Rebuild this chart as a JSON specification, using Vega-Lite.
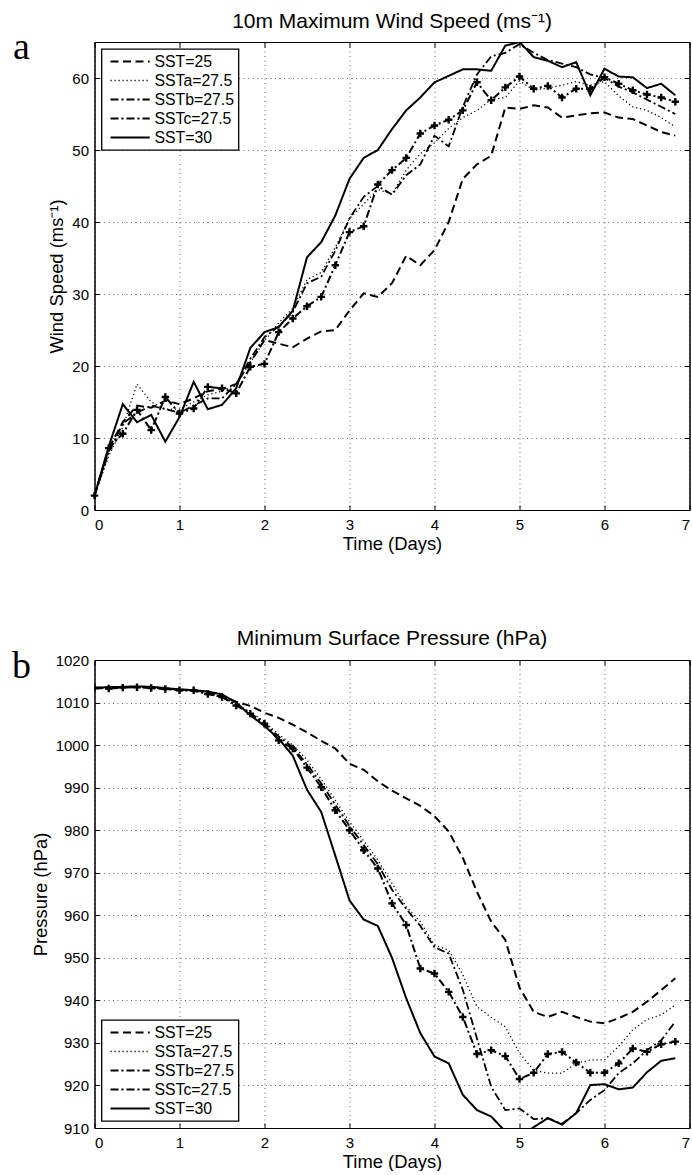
{
"$schema": "https://vega.github.io/schema/vega-lite/v6.json",
"padding": {"left": 11.5, "top": 10, "right": 0, "bottom": 0},
"background": "#ffffff",
"config": {
  "font": "Liberation Sans",
  "view": {"stroke": "#000", "strokeWidth": 1},
  "axis": {"grid": true, "gridColor": "#000", "gridDash": [1, 3.5], "gridOpacity": 0.6, "gridWidth": 1, "domainColor": "#000", "domainWidth": 1, "tickColor": "#000", "tickSize": -5, "tickWidth": 1, "labelColor": "#000", "labelFont": "Liberation Sans", "labelFontSize": 15, "titleFont": "Liberation Sans", "titleFontWeight": "normal", "titleFontSize": 18.4, "titleColor": "#000"},
  "axisX": {"labelPadding": 12, "titlePadding": 2},
  "axisY": {"labelPadding": 11, "titlePadding": 5, "format": "d"},
  "title": {"font": "Liberation Sans", "fontSize": 21, "fontWeight": "normal", "color": "#000", "frame": "group", "baseline": "alphabetic"},
  "legend": {"title": null, "offset": 7, "strokeColor": "#000", "strokeWidth": 1.3, "fillColor": "#fff", "padding": 4.5, "symbolType": "M-0.5,0H5.1", "symbolSize": 196, "symbolStrokeColor": "#000", "labelFont": "Liberation Sans", "labelFontSize": 15.8, "labelColor": "#000", "labelOffset": 32.5, "rowPadding": 3.0, "labelLimit": 300}
},
"datasets": {
"wind": [
{"t":0,"s":"SST=25","v":2},{"t":0.167,"s":"SST=25","v":8.5},{"t":0.333,"s":"SST=25","v":12.2},{"t":0.5,"s":"SST=25","v":14.5},{"t":0.667,"s":"SST=25","v":14.2},{"t":0.833,"s":"SST=25","v":15.2},{"t":1,"s":"SST=25","v":14.7},{"t":1.167,"s":"SST=25","v":15.5},{"t":1.333,"s":"SST=25","v":16.5},{"t":1.5,"s":"SST=25","v":16.8},{"t":1.667,"s":"SST=25","v":17.5},{"t":1.833,"s":"SST=25","v":20.5},{"t":2,"s":"SST=25","v":23.6},{"t":2.167,"s":"SST=25","v":23.1},{"t":2.333,"s":"SST=25","v":22.6},{"t":2.5,"s":"SST=25","v":23.8},{"t":2.667,"s":"SST=25","v":24.8},{"t":2.833,"s":"SST=25","v":25.0},{"t":3,"s":"SST=25","v":27.7},{"t":3.167,"s":"SST=25","v":30.1},{"t":3.333,"s":"SST=25","v":29.6},{"t":3.5,"s":"SST=25","v":31.5},{"t":3.667,"s":"SST=25","v":35.3},{"t":3.833,"s":"SST=25","v":34.0},{"t":4,"s":"SST=25","v":36.1},{"t":4.167,"s":"SST=25","v":40.0},{"t":4.333,"s":"SST=25","v":46.0},{"t":4.5,"s":"SST=25","v":48.0},{"t":4.667,"s":"SST=25","v":49.2},{"t":4.833,"s":"SST=25","v":55.9},{"t":5,"s":"SST=25","v":55.7},{"t":5.167,"s":"SST=25","v":56.2},{"t":5.333,"s":"SST=25","v":55.9},{"t":5.5,"s":"SST=25","v":54.5},{"t":5.667,"s":"SST=25","v":54.8},{"t":5.833,"s":"SST=25","v":55.1},{"t":6,"s":"SST=25","v":55.2},{"t":6.167,"s":"SST=25","v":54.5},{"t":6.333,"s":"SST=25","v":54.3},{"t":6.5,"s":"SST=25","v":53.4},{"t":6.667,"s":"SST=25","v":52.5},{"t":6.833,"s":"SST=25","v":52.0},
{"t":0,"s":"SSTa=27.5","v":2},{"t":0.167,"s":"SSTa=27.5","v":7.5},{"t":0.333,"s":"SSTa=27.5","v":11.5},{"t":0.5,"s":"SSTa=27.5","v":17.5},{"t":0.667,"s":"SSTa=27.5","v":15.0},{"t":0.833,"s":"SSTa=27.5","v":14.0},{"t":1,"s":"SSTa=27.5","v":14.0},{"t":1.167,"s":"SSTa=27.5","v":15.0},{"t":1.333,"s":"SSTa=27.5","v":16.0},{"t":1.5,"s":"SSTa=27.5","v":16.5},{"t":1.667,"s":"SSTa=27.5","v":17.5},{"t":1.833,"s":"SSTa=27.5","v":20.5},{"t":2,"s":"SSTa=27.5","v":23.5},{"t":2.167,"s":"SSTa=27.5","v":26.0},{"t":2.333,"s":"SSTa=27.5","v":28.0},{"t":2.5,"s":"SSTa=27.5","v":32.0},{"t":2.667,"s":"SSTa=27.5","v":33.0},{"t":2.833,"s":"SSTa=27.5","v":36.5},{"t":3,"s":"SSTa=27.5","v":40.5},{"t":3.167,"s":"SSTa=27.5","v":42.5},{"t":3.333,"s":"SSTa=27.5","v":44.5},{"t":3.5,"s":"SSTa=27.5","v":43.9},{"t":3.667,"s":"SSTa=27.5","v":47.2},{"t":3.833,"s":"SSTa=27.5","v":49.5},{"t":4,"s":"SSTa=27.5","v":51.0},{"t":4.167,"s":"SSTa=27.5","v":53.0},{"t":4.333,"s":"SSTa=27.5","v":54.5},{"t":4.5,"s":"SSTa=27.5","v":55.5},{"t":4.667,"s":"SSTa=27.5","v":57.0},{"t":4.833,"s":"SSTa=27.5","v":57.3},{"t":5,"s":"SSTa=27.5","v":59.6},{"t":5.167,"s":"SSTa=27.5","v":58.3},{"t":5.333,"s":"SSTa=27.5","v":58.6},{"t":5.5,"s":"SSTa=27.5","v":59.0},{"t":5.667,"s":"SSTa=27.5","v":59.5},{"t":5.833,"s":"SSTa=27.5","v":59.0},{"t":6,"s":"SSTa=27.5","v":59.5},{"t":6.167,"s":"SSTa=27.5","v":57.5},{"t":6.333,"s":"SSTa=27.5","v":56.0},{"t":6.5,"s":"SSTa=27.5","v":55.5},{"t":6.667,"s":"SSTa=27.5","v":54.5},{"t":6.833,"s":"SSTa=27.5","v":53.2},
{"t":0,"s":"SSTb=27.5","v":2},{"t":0.167,"s":"SSTb=27.5","v":8.0},{"t":0.333,"s":"SSTb=27.5","v":12.0},{"t":0.5,"s":"SSTb=27.5","v":13.5},{"t":0.667,"s":"SSTb=27.5","v":14.5},{"t":0.833,"s":"SSTb=27.5","v":14.0},{"t":1,"s":"SSTb=27.5","v":13.5},{"t":1.167,"s":"SSTb=27.5","v":14.5},{"t":1.333,"s":"SSTb=27.5","v":15.5},{"t":1.5,"s":"SSTb=27.5","v":15.5},{"t":1.667,"s":"SSTb=27.5","v":17.5},{"t":1.833,"s":"SSTb=27.5","v":21.0},{"t":2,"s":"SSTb=27.5","v":24.0},{"t":2.167,"s":"SSTb=27.5","v":25.5},{"t":2.333,"s":"SSTb=27.5","v":27.5},{"t":2.5,"s":"SSTb=27.5","v":31.5},{"t":2.667,"s":"SSTb=27.5","v":32.4},{"t":2.833,"s":"SSTb=27.5","v":36.0},{"t":3,"s":"SSTb=27.5","v":40.5},{"t":3.167,"s":"SSTb=27.5","v":43.5},{"t":3.333,"s":"SSTb=27.5","v":45.0},{"t":3.5,"s":"SSTb=27.5","v":43.8},{"t":3.667,"s":"SSTb=27.5","v":46.5},{"t":3.833,"s":"SSTb=27.5","v":48.0},{"t":4,"s":"SSTb=27.5","v":52.0},{"t":4.167,"s":"SSTb=27.5","v":50.5},{"t":4.333,"s":"SSTb=27.5","v":56.0},{"t":4.5,"s":"SSTb=27.5","v":60.5},{"t":4.667,"s":"SSTb=27.5","v":63.0},{"t":4.833,"s":"SSTb=27.5","v":63.5},{"t":5,"s":"SSTb=27.5","v":64.7},{"t":5.167,"s":"SSTb=27.5","v":63.5},{"t":5.333,"s":"SSTb=27.5","v":62.5},{"t":5.5,"s":"SSTb=27.5","v":62.0},{"t":5.667,"s":"SSTb=27.5","v":61.5},{"t":5.833,"s":"SSTb=27.5","v":60.5},{"t":6,"s":"SSTb=27.5","v":60.0},{"t":6.167,"s":"SSTb=27.5","v":58.8},{"t":6.333,"s":"SSTb=27.5","v":58.0},{"t":6.5,"s":"SSTb=27.5","v":57.0},{"t":6.667,"s":"SSTb=27.5","v":56.0},{"t":6.833,"s":"SSTb=27.5","v":55.0},
{"t":0,"s":"SSTc=27.5","v":2},{"t":0.167,"s":"SSTc=27.5","v":8.6},{"t":0.333,"s":"SSTc=27.5","v":10.6},{"t":0.5,"s":"SSTc=27.5","v":13.9},{"t":0.667,"s":"SSTc=27.5","v":11.1},{"t":0.833,"s":"SSTc=27.5","v":15.7},{"t":1,"s":"SSTc=27.5","v":13.4},{"t":1.167,"s":"SSTc=27.5","v":14.1},{"t":1.333,"s":"SSTc=27.5","v":17.1},{"t":1.5,"s":"SSTc=27.5","v":16.9},{"t":1.667,"s":"SSTc=27.5","v":16.2},{"t":1.833,"s":"SSTc=27.5","v":19.9},{"t":2,"s":"SSTc=27.5","v":20.3},{"t":2.167,"s":"SSTc=27.5","v":24.7},{"t":2.333,"s":"SSTc=27.5","v":26.6},{"t":2.5,"s":"SSTc=27.5","v":28.3},{"t":2.667,"s":"SSTc=27.5","v":29.6},{"t":2.833,"s":"SSTc=27.5","v":34.0},{"t":3,"s":"SSTc=27.5","v":38.6},{"t":3.167,"s":"SSTc=27.5","v":39.4},{"t":3.333,"s":"SSTc=27.5","v":45.2},{"t":3.5,"s":"SSTc=27.5","v":47.2},{"t":3.667,"s":"SSTc=27.5","v":48.9},{"t":3.833,"s":"SSTc=27.5","v":52.3},{"t":4,"s":"SSTc=27.5","v":53.4},{"t":4.167,"s":"SSTc=27.5","v":54.2},{"t":4.333,"s":"SSTc=27.5","v":55.5},{"t":4.5,"s":"SSTc=27.5","v":59.4},{"t":4.667,"s":"SSTc=27.5","v":56.9},{"t":4.833,"s":"SSTc=27.5","v":58.7},{"t":5,"s":"SSTc=27.5","v":60.2},{"t":5.167,"s":"SSTc=27.5","v":58.5},{"t":5.333,"s":"SSTc=27.5","v":58.9},{"t":5.5,"s":"SSTc=27.5","v":57.3},{"t":5.667,"s":"SSTc=27.5","v":58.5},{"t":5.833,"s":"SSTc=27.5","v":58.5},{"t":6,"s":"SSTc=27.5","v":60.1},{"t":6.167,"s":"SSTc=27.5","v":59.2},{"t":6.333,"s":"SSTc=27.5","v":58.3},{"t":6.5,"s":"SSTc=27.5","v":57.7},{"t":6.667,"s":"SSTc=27.5","v":57.3},{"t":6.833,"s":"SSTc=27.5","v":56.7},
{"t":0,"s":"SST=30","v":2.0},{"t":0.167,"s":"SST=30","v":8.8},{"t":0.333,"s":"SST=30","v":14.7},{"t":0.5,"s":"SST=30","v":12.2},{"t":0.667,"s":"SST=30","v":13.2},{"t":0.833,"s":"SST=30","v":9.5},{"t":1,"s":"SST=30","v":12.9},{"t":1.167,"s":"SST=30","v":17.8},{"t":1.333,"s":"SST=30","v":14.0},{"t":1.5,"s":"SST=30","v":14.6},{"t":1.667,"s":"SST=30","v":16.9},{"t":1.833,"s":"SST=30","v":22.5},{"t":2,"s":"SST=30","v":24.7},{"t":2.167,"s":"SST=30","v":25.4},{"t":2.333,"s":"SST=30","v":27.7},{"t":2.5,"s":"SST=30","v":35.1},{"t":2.667,"s":"SST=30","v":37.2},{"t":2.833,"s":"SST=30","v":40.9},{"t":3,"s":"SST=30","v":46.0},{"t":3.167,"s":"SST=30","v":48.9},{"t":3.333,"s":"SST=30","v":50.0},{"t":3.5,"s":"SST=30","v":52.9},{"t":3.667,"s":"SST=30","v":55.5},{"t":3.833,"s":"SST=30","v":57.3},{"t":4,"s":"SST=30","v":59.4},{"t":4.167,"s":"SST=30","v":60.3},{"t":4.333,"s":"SST=30","v":61.2},{"t":4.5,"s":"SST=30","v":61.2},{"t":4.667,"s":"SST=30","v":61.0},{"t":4.833,"s":"SST=30","v":64.5},{"t":5,"s":"SST=30","v":65.0},{"t":5.167,"s":"SST=30","v":62.9},{"t":5.333,"s":"SST=30","v":62.4},{"t":5.5,"s":"SST=30","v":61.5},{"t":5.667,"s":"SST=30","v":62.2},{"t":5.833,"s":"SST=30","v":57.6},{"t":6,"s":"SST=30","v":61.3},{"t":6.167,"s":"SST=30","v":60.2},{"t":6.333,"s":"SST=30","v":60.1},{"t":6.5,"s":"SST=30","v":58.6},{"t":6.667,"s":"SST=30","v":59.2},{"t":6.833,"s":"SST=30","v":57.6}
],
"pres": [
{"t":0,"s":"SST=25","v":1013.4},{"t":0.167,"s":"SST=25","v":1013.5},{"t":0.333,"s":"SST=25","v":1013.6},{"t":0.5,"s":"SST=25","v":1013.7},{"t":0.667,"s":"SST=25","v":1013.6},{"t":0.833,"s":"SST=25","v":1013.3},{"t":1,"s":"SST=25","v":1013.0},{"t":1.167,"s":"SST=25","v":1012.9},{"t":1.333,"s":"SST=25","v":1012.4},{"t":1.5,"s":"SST=25","v":1011.6},{"t":1.667,"s":"SST=25","v":1010.2},{"t":1.833,"s":"SST=25","v":1009.2},{"t":2,"s":"SST=25","v":1007.6},{"t":2.167,"s":"SST=25","v":1006.4},{"t":2.333,"s":"SST=25","v":1004.8},{"t":2.5,"s":"SST=25","v":1003.0},{"t":2.667,"s":"SST=25","v":1001.0},{"t":2.833,"s":"SST=25","v":999.2},{"t":3,"s":"SST=25","v":995.6},{"t":3.167,"s":"SST=25","v":994.2},{"t":3.333,"s":"SST=25","v":991.5},{"t":3.5,"s":"SST=25","v":989.3},{"t":3.667,"s":"SST=25","v":987.5},{"t":3.833,"s":"SST=25","v":985.7},{"t":4,"s":"SST=25","v":983.3},{"t":4.167,"s":"SST=25","v":979.7},{"t":4.333,"s":"SST=25","v":973.5},{"t":4.5,"s":"SST=25","v":965.5},{"t":4.667,"s":"SST=25","v":958.5},{"t":4.833,"s":"SST=25","v":954.2},{"t":5,"s":"SST=25","v":943.0},{"t":5.167,"s":"SST=25","v":937.3},{"t":5.333,"s":"SST=25","v":936.1},{"t":5.5,"s":"SST=25","v":937.3},{"t":5.667,"s":"SST=25","v":936.1},{"t":5.833,"s":"SST=25","v":935.0},{"t":6,"s":"SST=25","v":934.6},{"t":6.167,"s":"SST=25","v":935.8},{"t":6.333,"s":"SST=25","v":937.3},{"t":6.5,"s":"SST=25","v":939.7},{"t":6.667,"s":"SST=25","v":942.4},{"t":6.833,"s":"SST=25","v":945.2},
{"t":0,"s":"SSTa=27.5","v":1013.4},{"t":0.167,"s":"SSTa=27.5","v":1013.5},{"t":0.333,"s":"SSTa=27.5","v":1013.6},{"t":0.5,"s":"SSTa=27.5","v":1013.7},{"t":0.667,"s":"SSTa=27.5","v":1013.5},{"t":0.833,"s":"SSTa=27.5","v":1013.3},{"t":1,"s":"SSTa=27.5","v":1013.0},{"t":1.167,"s":"SSTa=27.5","v":1012.8},{"t":1.333,"s":"SSTa=27.5","v":1012.2},{"t":1.5,"s":"SSTa=27.5","v":1011.4},{"t":1.667,"s":"SSTa=27.5","v":1009.6},{"t":1.833,"s":"SSTa=27.5","v":1007.8},{"t":2,"s":"SSTa=27.5","v":1005.5},{"t":2.167,"s":"SSTa=27.5","v":1002.5},{"t":2.333,"s":"SSTa=27.5","v":1000.0},{"t":2.5,"s":"SSTa=27.5","v":996.5},{"t":2.667,"s":"SSTa=27.5","v":992.0},{"t":2.833,"s":"SSTa=27.5","v":987.0},{"t":3,"s":"SSTa=27.5","v":982.0},{"t":3.167,"s":"SSTa=27.5","v":977.5},{"t":3.333,"s":"SSTa=27.5","v":973.0},{"t":3.5,"s":"SSTa=27.5","v":967.5},{"t":3.667,"s":"SSTa=27.5","v":962.0},{"t":3.833,"s":"SSTa=27.5","v":958.5},{"t":4,"s":"SSTa=27.5","v":953.0},{"t":4.167,"s":"SSTa=27.5","v":951.8},{"t":4.333,"s":"SSTa=27.5","v":946.0},{"t":4.5,"s":"SSTa=27.5","v":938.5},{"t":4.667,"s":"SSTa=27.5","v":936.0},{"t":4.833,"s":"SSTa=27.5","v":933.8},{"t":5,"s":"SSTa=27.5","v":927.6},{"t":5.167,"s":"SSTa=27.5","v":923.6},{"t":5.333,"s":"SSTa=27.5","v":922.9},{"t":5.5,"s":"SSTa=27.5","v":922.9},{"t":5.667,"s":"SSTa=27.5","v":925.2},{"t":5.833,"s":"SSTa=27.5","v":926.0},{"t":6,"s":"SSTa=27.5","v":926.0},{"t":6.167,"s":"SSTa=27.5","v":929.2},{"t":6.333,"s":"SSTa=27.5","v":933.1},{"t":6.5,"s":"SSTa=27.5","v":935.5},{"t":6.667,"s":"SSTa=27.5","v":936.6},{"t":6.833,"s":"SSTa=27.5","v":938.9},
{"t":0,"s":"SSTb=27.5","v":1013.3},{"t":0.167,"s":"SSTb=27.5","v":1013.5},{"t":0.333,"s":"SSTb=27.5","v":1013.6},{"t":0.5,"s":"SSTb=27.5","v":1013.7},{"t":0.667,"s":"SSTb=27.5","v":1013.5},{"t":0.833,"s":"SSTb=27.5","v":1013.2},{"t":1,"s":"SSTb=27.5","v":1012.9},{"t":1.167,"s":"SSTb=27.5","v":1012.7},{"t":1.333,"s":"SSTb=27.5","v":1012.1},{"t":1.5,"s":"SSTb=27.5","v":1011.3},{"t":1.667,"s":"SSTb=27.5","v":1009.5},{"t":1.833,"s":"SSTb=27.5","v":1007.5},{"t":2,"s":"SSTb=27.5","v":1005.2},{"t":2.167,"s":"SSTb=27.5","v":1002.0},{"t":2.333,"s":"SSTb=27.5","v":999.5},{"t":2.5,"s":"SSTb=27.5","v":995.5},{"t":2.667,"s":"SSTb=27.5","v":991.0},{"t":2.833,"s":"SSTb=27.5","v":986.0},{"t":3,"s":"SSTb=27.5","v":981.0},{"t":3.167,"s":"SSTb=27.5","v":976.5},{"t":3.333,"s":"SSTb=27.5","v":972.0},{"t":3.5,"s":"SSTb=27.5","v":966.0},{"t":3.667,"s":"SSTb=27.5","v":961.5},{"t":3.833,"s":"SSTb=27.5","v":957.5},{"t":4,"s":"SSTb=27.5","v":952.5},{"t":4.167,"s":"SSTb=27.5","v":951.0},{"t":4.333,"s":"SSTb=27.5","v":942.5},{"t":4.5,"s":"SSTb=27.5","v":931.0},{"t":4.667,"s":"SSTb=27.5","v":919.7},{"t":4.833,"s":"SSTb=27.5","v":914.2},{"t":5,"s":"SSTb=27.5","v":914.6},{"t":5.167,"s":"SSTb=27.5","v":912.1},{"t":5.333,"s":"SSTb=27.5","v":912.3},{"t":5.5,"s":"SSTb=27.5","v":911.0},{"t":5.667,"s":"SSTb=27.5","v":913.5},{"t":5.833,"s":"SSTb=27.5","v":916.6},{"t":6,"s":"SSTb=27.5","v":918.9},{"t":6.167,"s":"SSTb=27.5","v":922.9},{"t":6.333,"s":"SSTb=27.5","v":925.2},{"t":6.5,"s":"SSTb=27.5","v":928.3},{"t":6.667,"s":"SSTb=27.5","v":930.6},{"t":6.833,"s":"SSTb=27.5","v":935.0},
{"t":0,"s":"SSTc=27.5","v":1013.4},{"t":0.167,"s":"SSTc=27.5","v":1013.3},{"t":0.333,"s":"SSTc=27.5","v":1013.5},{"t":0.5,"s":"SSTc=27.5","v":1013.6},{"t":0.667,"s":"SSTc=27.5","v":1013.4},{"t":0.833,"s":"SSTc=27.5","v":1013.2},{"t":1,"s":"SSTc=27.5","v":1012.9},{"t":1.167,"s":"SSTc=27.5","v":1012.9},{"t":1.333,"s":"SSTc=27.5","v":1012.0},{"t":1.5,"s":"SSTc=27.5","v":1011.3},{"t":1.667,"s":"SSTc=27.5","v":1009.3},{"t":1.833,"s":"SSTc=27.5","v":1007.4},{"t":2,"s":"SSTc=27.5","v":1005.0},{"t":2.167,"s":"SSTc=27.5","v":1001.1},{"t":2.333,"s":"SSTc=27.5","v":999.2},{"t":2.5,"s":"SSTc=27.5","v":994.7},{"t":2.667,"s":"SSTc=27.5","v":990.1},{"t":2.833,"s":"SSTc=27.5","v":984.7},{"t":3,"s":"SSTc=27.5","v":980.0},{"t":3.167,"s":"SSTc=27.5","v":975.3},{"t":3.333,"s":"SSTc=27.5","v":971.0},{"t":3.5,"s":"SSTc=27.5","v":962.8},{"t":3.667,"s":"SSTc=27.5","v":957.7},{"t":3.833,"s":"SSTc=27.5","v":947.5},{"t":4,"s":"SSTc=27.5","v":946.3},{"t":4.167,"s":"SSTc=27.5","v":942.0},{"t":4.333,"s":"SSTc=27.5","v":936.1},{"t":4.5,"s":"SSTc=27.5","v":927.4},{"t":4.667,"s":"SSTc=27.5","v":928.3},{"t":4.833,"s":"SSTc=27.5","v":926.9},{"t":5,"s":"SSTc=27.5","v":921.5},{"t":5.167,"s":"SSTc=27.5","v":923.0},{"t":5.333,"s":"SSTc=27.5","v":927.4},{"t":5.5,"s":"SSTc=27.5","v":927.9},{"t":5.667,"s":"SSTc=27.5","v":925.4},{"t":5.833,"s":"SSTc=27.5","v":923.0},{"t":6,"s":"SSTc=27.5","v":923.0},{"t":6.167,"s":"SSTc=27.5","v":925.2},{"t":6.333,"s":"SSTc=27.5","v":928.7},{"t":6.5,"s":"SSTc=27.5","v":927.9},{"t":6.667,"s":"SSTc=27.5","v":929.7},{"t":6.833,"s":"SSTc=27.5","v":930.3},
{"t":0,"s":"SST=30","v":1013.5},{"t":0.167,"s":"SST=30","v":1013.6},{"t":0.333,"s":"SST=30","v":1013.7},{"t":0.5,"s":"SST=30","v":1013.8},{"t":0.667,"s":"SST=30","v":1013.7},{"t":0.833,"s":"SST=30","v":1013.4},{"t":1,"s":"SST=30","v":1013.1},{"t":1.167,"s":"SST=30","v":1012.9},{"t":1.333,"s":"SST=30","v":1012.6},{"t":1.5,"s":"SST=30","v":1011.9},{"t":1.667,"s":"SST=30","v":1010.0},{"t":1.833,"s":"SST=30","v":1007.0},{"t":2,"s":"SST=30","v":1004.5},{"t":2.167,"s":"SST=30","v":1001.5},{"t":2.333,"s":"SST=30","v":997.5},{"t":2.5,"s":"SST=30","v":989.5},{"t":2.667,"s":"SST=30","v":984.3},{"t":2.833,"s":"SST=30","v":974.0},{"t":3,"s":"SST=30","v":963.5},{"t":3.167,"s":"SST=30","v":959.0},{"t":3.333,"s":"SST=30","v":957.5},{"t":3.5,"s":"SST=30","v":950.0},{"t":3.667,"s":"SST=30","v":940.5},{"t":3.833,"s":"SST=30","v":932.3},{"t":4,"s":"SST=30","v":926.8},{"t":4.167,"s":"SST=30","v":925.2},{"t":4.333,"s":"SST=30","v":917.8},{"t":4.5,"s":"SST=30","v":914.2},{"t":4.667,"s":"SST=30","v":912.7},{"t":4.833,"s":"SST=30","v":909.2},{"t":5,"s":"SST=30","v":907.8},{"t":5.167,"s":"SST=30","v":910.2},{"t":5.333,"s":"SST=30","v":912.3},{"t":5.5,"s":"SST=30","v":910.8},{"t":5.667,"s":"SST=30","v":913.5},{"t":5.833,"s":"SST=30","v":920.1},{"t":6,"s":"SST=30","v":920.3},{"t":6.167,"s":"SST=30","v":919.1},{"t":6.333,"s":"SST=30","v":919.5},{"t":6.5,"s":"SST=30","v":923.1},{"t":6.667,"s":"SST=30","v":925.8},{"t":6.833,"s":"SST=30","v":926.4}
]
},
"spacing": 74,
"vconcat": [
{
  "width": 595, "height": 468,
  "title": {"text": "10m Maximum Wind Speed (ms⁻¹)", "offset": -3.5},
  "data": {"name": "wind"},
  "layer": [
    {
      "mark": {"type": "line", "color": "#000", "strokeCap": "butt", "clip": true},
      "encoding": {
        "x": {"field": "t", "type": "quantitative", "scale": {"domain": [0, 7], "nice": false}, "axis": {"values": [0,1,2,3,4,5,6,7], "title": "Time (Days)"}},
        "y": {"field": "v", "type": "quantitative", "scale": {"domain": [0, 65], "nice": false}, "axis": {"values": [0,10,20,30,40,50,60], "title": "Wind Speed (ms⁻¹)"}},
        "strokeDash": {"field": "s", "type": "nominal", "scale": {"domain": ["SST=25","SSTa=27.5","SSTb=27.5","SSTc=27.5","SST=30"], "range": [[8,4.5],[1.2,2.8],[8,3,2,3],[8,3,2,3],[1,0]]}, "legend": {"orient": "top-left", "encoding": {"symbols": {"update": {"shape": {"signal": "datum.value === 'SSTc=27.5' ? 'M-0.5,0H-0.2M0.2,0H4.3M2.31,-0.6V0.6M4.7,0H5.1' : 'M-0.5,0H5.1'"}, "strokeDash": {"signal": "datum.value === 'SST=25' ? [8,4.5] : datum.value === 'SSTa=27.5' ? [1.2,2.8] : datum.value === 'SSTb=27.5' ? [8,3,2,3] : [1,0]"}}}}}},
        "strokeWidth": {"field": "s", "type": "nominal", "scale": {"type": "ordinal", "domain": ["SST=25","SSTa=27.5","SSTb=27.5","SSTc=27.5","SST=30"], "range": [2,1.3,1.8,2,2]}, "legend": {"orient": "top-left", "encoding": {"symbols": {"update": {"shape": {"signal": "datum.value === 'SSTc=27.5' ? 'M-0.5,0H-0.2M0.2,0H4.3M2.31,-0.6V0.6M4.7,0H5.1' : 'M-0.5,0H5.1'"}, "strokeDash": {"signal": "datum.value === 'SST=25' ? [8,4.5] : datum.value === 'SSTa=27.5' ? [1.2,2.8] : datum.value === 'SSTb=27.5' ? [8,3,2,3] : [1,0]"}}}}}}
      }
    },
    {
      "transform": [{"filter": "datum.s === 'SSTc=27.5'"}],
      "mark": {"type": "point", "shape": "M-1,0H1M0,-1V1", "filled": false, "stroke": "#000", "strokeWidth": 2.4, "size": 55, "opacity": 1},
      "encoding": {
        "x": {"field": "t", "type": "quantitative", "axis": {"orient": "top", "labels": false, "title": null, "grid": false, "values": [0,1,2,3,4,5,6,7]}},
        "y": {"field": "v", "type": "quantitative", "axis": {"orient": "right", "labels": false, "title": null, "grid": false, "values": [0,10,20,30,40,50,60]}}
      }
    },
    {
      "data": {"values": [{"label": "a"}]},
      "mark": {"type": "text", "font": "Liberation Serif", "fontSize": 38, "align": "left", "baseline": "alphabetic", "color": "#000"},
      "encoding": {
        "x": {"datum": -0.96, "type": "quantitative", "axis": null},
        "y": {"datum": 62.7, "type": "quantitative", "axis": null},
        "text": {"field": "label"}
      }
    }
  ],
  "resolve": {"axis": {"x": "independent", "y": "independent"}}
},
{
  "width": 595, "height": 468,
  "title": {"text": "Minimum Surface Pressure (hPa)", "offset": -1},
  "data": {"name": "pres"},
  "layer": [
    {
      "mark": {"type": "line", "color": "#000", "strokeCap": "butt", "clip": true},
      "encoding": {
        "x": {"field": "t", "type": "quantitative", "scale": {"domain": [0, 7], "nice": false}, "axis": {"values": [0,1,2,3,4,5,6,7], "title": "Time (Days)"}},
        "y": {"field": "v", "type": "quantitative", "scale": {"domain": [910, 1020], "nice": false, "zero": false}, "axis": {"values": [910,920,930,940,950,960,970,980,990,1000,1010,1020], "title": "Pressure (hPa)"}},
        "strokeDash": {"field": "s", "type": "nominal", "scale": {"domain": ["SST=25","SSTa=27.5","SSTb=27.5","SSTc=27.5","SST=30"], "range": [[8,4.5],[1.2,2.8],[8,3,2,3],[8,3,2,3],[1,0]]}, "legend": {"orient": "bottom-left", "encoding": {"symbols": {"update": {"shape": {"signal": "datum.value === 'SSTc=27.5' ? 'M-0.5,0H-0.2M0.2,0H4.3M2.31,-0.6V0.6M4.7,0H5.1' : 'M-0.5,0H5.1'"}, "strokeDash": {"signal": "datum.value === 'SST=25' ? [8,4.5] : datum.value === 'SSTa=27.5' ? [1.2,2.8] : datum.value === 'SSTb=27.5' ? [8,3,2,3] : [1,0]"}}}}}},
        "strokeWidth": {"field": "s", "type": "nominal", "scale": {"type": "ordinal", "domain": ["SST=25","SSTa=27.5","SSTb=27.5","SSTc=27.5","SST=30"], "range": [2,1.3,1.8,2,2]}, "legend": {"orient": "bottom-left", "encoding": {"symbols": {"update": {"shape": {"signal": "datum.value === 'SSTc=27.5' ? 'M-0.5,0H-0.2M0.2,0H4.3M2.31,-0.6V0.6M4.7,0H5.1' : 'M-0.5,0H5.1'"}, "strokeDash": {"signal": "datum.value === 'SST=25' ? [8,4.5] : datum.value === 'SSTa=27.5' ? [1.2,2.8] : datum.value === 'SSTb=27.5' ? [8,3,2,3] : [1,0]"}}}}}}
      }
    },
    {
      "transform": [{"filter": "datum.s === 'SSTc=27.5'"}],
      "mark": {"type": "point", "shape": "M-1,0H1M0,-1V1", "filled": false, "stroke": "#000", "strokeWidth": 2.4, "size": 55, "opacity": 1, "clip": true},
      "encoding": {
        "x": {"field": "t", "type": "quantitative", "axis": {"orient": "top", "labels": false, "title": null, "grid": false, "values": [0,1,2,3,4,5,6,7]}},
        "y": {"field": "v", "type": "quantitative", "axis": {"orient": "right", "labels": false, "title": null, "grid": false, "values": [910,920,930,940,950,960,970,980,990,1000,1010,1020]}}
      }
    },
    {
      "data": {"values": [{"label": "b"}]},
      "mark": {"type": "text", "font": "Liberation Serif", "fontSize": 38, "align": "left", "baseline": "alphabetic", "color": "#000"},
      "encoding": {
        "x": {"datum": -0.97, "type": "quantitative", "axis": null},
        "y": {"datum": 1015.7, "type": "quantitative", "axis": null},
        "text": {"field": "label"}
      }
    }
  ],
  "resolve": {"axis": {"x": "independent", "y": "independent"}}
}
]
}
